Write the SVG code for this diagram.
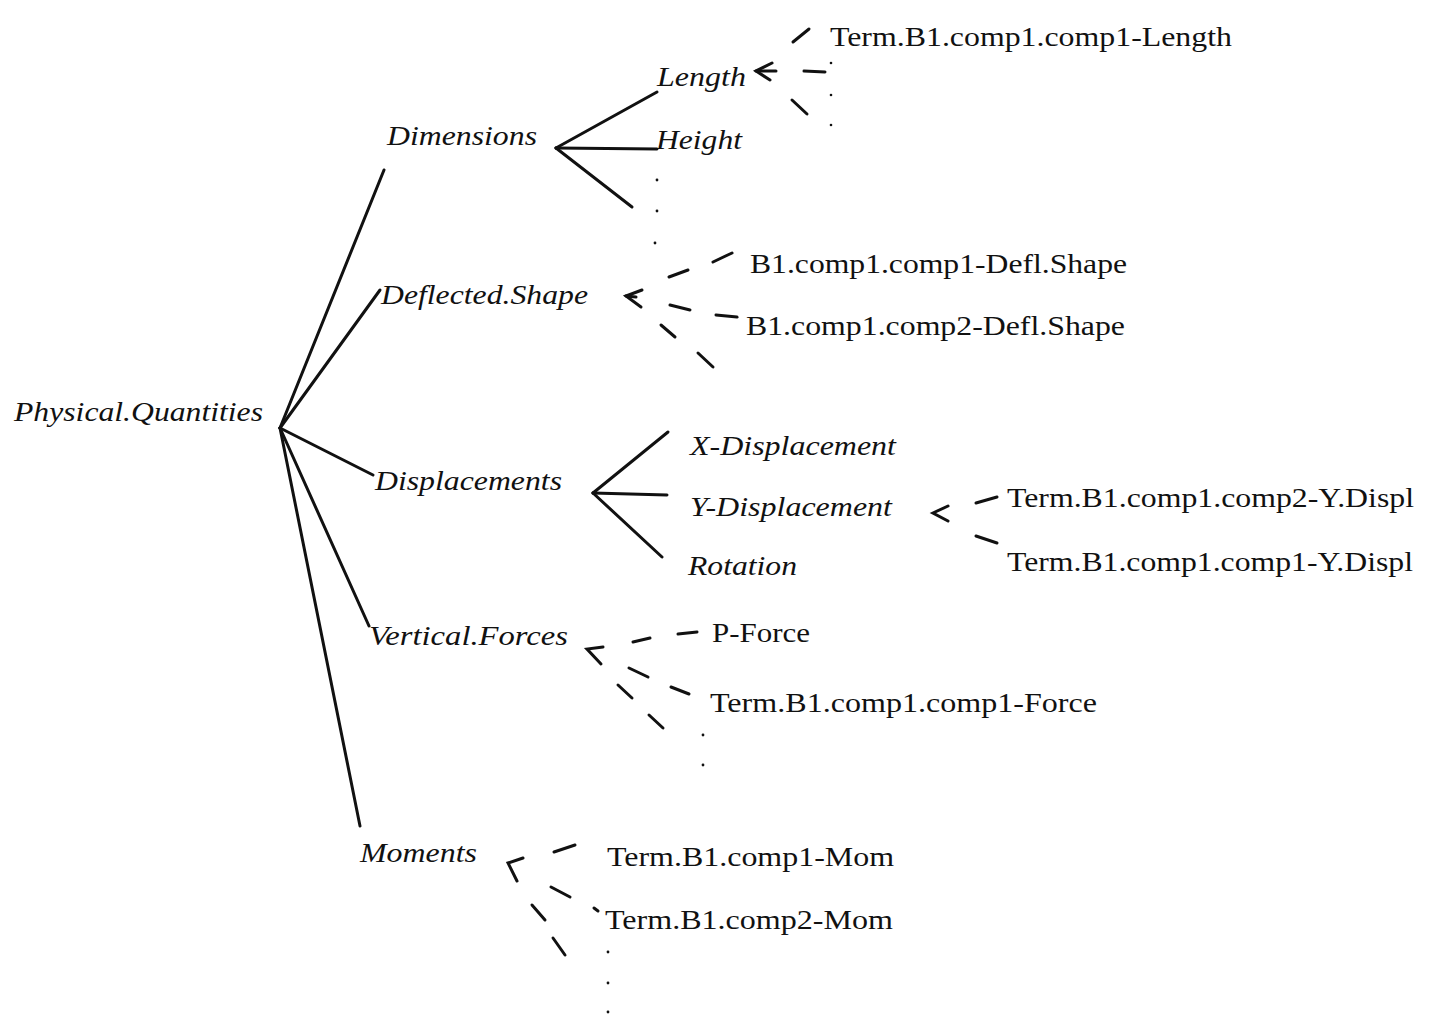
<svg xmlns="http://www.w3.org/2000/svg" width="1436" height="1019" viewBox="0 0 1436 1019">
  <style>
    .cls { font-family: "Liberation Serif", "Times New Roman", serif; font-style: italic; font-size: 27px; fill: #111; }
    .inst { font-family: "Liberation Serif", "Times New Roman", serif; font-size: 27px; fill: #111; }
    .ln { stroke: #111; stroke-width: 3; stroke-linecap: round; fill: none; }
    .dash { stroke: #111; stroke-width: 3; stroke-linecap: round; fill: none; }
    .dot { fill: #111; }
  </style>
  <rect width="1436" height="1019" fill="#fff"/>

  <!-- tree connectors (solid) and instance links (dashed arrows) -->
  <g id="connectors">
    <!-- root to categories -->
    <line class="ln" x1="280" y1="428" x2="384" y2="170"/>
    <line class="ln" x1="280" y1="428" x2="380" y2="290"/>
    <line class="ln" x1="280" y1="428" x2="373" y2="475"/>
    <line class="ln" x1="280" y1="428" x2="369" y2="626"/>
    <line class="ln" x1="280" y1="428" x2="360" y2="826"/>
    <!-- Dimensions fan -->
    <line class="ln" x1="556" y1="148" x2="657" y2="92"/>
    <line class="ln" x1="556" y1="148" x2="657" y2="149"/>
    <line class="ln" x1="556" y1="148" x2="632" y2="207"/>
    <!-- Displacements fan -->
    <line class="ln" x1="593" y1="493" x2="668" y2="432"/>
    <line class="ln" x1="593" y1="493" x2="667" y2="495"/>
    <line class="ln" x1="593" y1="493" x2="662" y2="557"/>

    <!-- Length instances -->
    <polyline class="ln" points="772,63 756,71 770,80"/>
    <line class="ln" x1="756" y1="71" x2="776" y2="71"/>
    <line class="dash" x1="793" y1="42" x2="809" y2="29"/>
    <line class="dash" x1="804" y1="71" x2="825" y2="72"/>
    <line class="dash" x1="792" y1="100" x2="807" y2="114"/>

    <!-- Deflected.Shape instances -->
    <polyline class="ln" points="642,290 626,296 641,307"/>
    <line class="ln" x1="626" y1="296" x2="636" y2="297"/>
    <line class="dash" x1="669" y1="277" x2="688" y2="270"/>
    <line class="dash" x1="713" y1="262" x2="732" y2="253"/>
    <line class="dash" x1="670" y1="305" x2="690" y2="310"/>
    <line class="dash" x1="716" y1="315" x2="737" y2="317"/>
    <line class="dash" x1="661" y1="325" x2="675" y2="337"/>
    <line class="dash" x1="698" y1="353" x2="713" y2="367"/>

    <!-- Y-Displacement instances -->
    <polyline class="ln" points="948,506 933,513 948,521"/>
    <line class="dash" x1="976" y1="503" x2="997" y2="497"/>
    <line class="dash" x1="976" y1="536" x2="997" y2="543"/>

    <!-- Vertical.Forces instances -->
    <polyline class="ln" points="603,647 587,649 601,664"/>
    <line class="dash" x1="633" y1="642" x2="650" y2="638"/>
    <line class="dash" x1="678" y1="634" x2="697" y2="632"/>
    <line class="dash" x1="629" y1="668" x2="648" y2="677"/>
    <line class="dash" x1="671" y1="687" x2="689" y2="694"/>
    <line class="dash" x1="618" y1="685" x2="632" y2="698"/>
    <line class="dash" x1="649" y1="715" x2="663" y2="728"/>

    <!-- Moments instances -->
    <polyline class="ln" points="523,858 508,863 517,881"/>
    <line class="dash" x1="554" y1="852" x2="575" y2="845"/>
    <line class="dash" x1="551" y1="887" x2="570" y2="897"/>
    <line class="dash" x1="594" y1="908" x2="598" y2="911"/>
    <line class="dash" x1="532" y1="905" x2="545" y2="920"/>
    <line class="dash" x1="553" y1="938" x2="565" y2="955"/>
  </g>

  <!-- ellipsis dots marking further members -->
  <g id="ellipses">
    <circle class="dot" cx="657" cy="180" r="1.4"/>
    <circle class="dot" cx="657" cy="211" r="1.4"/>
    <circle class="dot" cx="655" cy="243" r="1.4"/>
    <circle class="dot" cx="831" cy="63" r="1.3"/>
    <circle class="dot" cx="831" cy="95" r="1.3"/>
    <circle class="dot" cx="831" cy="125" r="1.3"/>
    <circle class="dot" cx="703" cy="735" r="1.4"/>
    <circle class="dot" cx="703" cy="765" r="1.4"/>
    <circle class="dot" cx="608" cy="952" r="1.4"/>
    <circle class="dot" cx="608" cy="983" r="1.4"/>
    <circle class="dot" cx="608" cy="1012" r="1.4"/>
  </g>

  <g id="physical-quantities"><text class="cls" x="14" y="421" textLength="249" lengthAdjust="spacingAndGlyphs">Physical.Quantities</text></g>

  <g id="dimensions"><text class="cls" x="387" y="145" textLength="150" lengthAdjust="spacingAndGlyphs">Dimensions</text></g>
  <g id="length"><text class="cls" x="657" y="86" textLength="89" lengthAdjust="spacingAndGlyphs">Length</text></g>
  <g id="height"><text class="cls" x="656" y="149" textLength="86" lengthAdjust="spacingAndGlyphs">Height</text></g>
  <g id="term-length"><text class="inst" x="830" y="46" textLength="402" lengthAdjust="spacingAndGlyphs">Term.B1.comp1.comp1-Length</text></g>

  <g id="deflected-shape"><text class="cls" x="381" y="304" textLength="207" lengthAdjust="spacingAndGlyphs">Deflected.Shape</text></g>
  <g id="defl-1"><text class="inst" x="750" y="273" textLength="377" lengthAdjust="spacingAndGlyphs">B1.comp1.comp1-Defl.Shape</text></g>
  <g id="defl-2"><text class="inst" x="746" y="335" textLength="379" lengthAdjust="spacingAndGlyphs">B1.comp1.comp2-Defl.Shape</text></g>

  <g id="displacements"><text class="cls" x="375" y="490" textLength="187" lengthAdjust="spacingAndGlyphs">Displacements</text></g>
  <g id="x-displacement"><text class="cls" x="690" y="455" textLength="206" lengthAdjust="spacingAndGlyphs">X-Displacement</text></g>
  <g id="y-displacement"><text class="cls" x="690" y="516" textLength="202" lengthAdjust="spacingAndGlyphs">Y-Displacement</text></g>
  <g id="rotation"><text class="cls" x="688" y="575" textLength="109" lengthAdjust="spacingAndGlyphs">Rotation</text></g>
  <g id="ydispl-2"><text class="inst" x="1007" y="507" textLength="407" lengthAdjust="spacingAndGlyphs">Term.B1.comp1.comp2-Y.Displ</text></g>
  <g id="ydispl-1"><text class="inst" x="1007" y="571" textLength="406" lengthAdjust="spacingAndGlyphs">Term.B1.comp1.comp1-Y.Displ</text></g>

  <g id="vertical-forces"><text class="cls" x="369" y="645" textLength="199" lengthAdjust="spacingAndGlyphs">Vertical.Forces</text></g>
  <g id="p-force"><text class="inst" x="712" y="642" textLength="98" lengthAdjust="spacingAndGlyphs">P-Force</text></g>
  <g id="term-force"><text class="inst" x="710" y="712" textLength="387" lengthAdjust="spacingAndGlyphs">Term.B1.comp1.comp1-Force</text></g>

  <g id="moments"><text class="cls" x="360" y="862" textLength="117" lengthAdjust="spacingAndGlyphs">Moments</text></g>
  <g id="mom-1"><text class="inst" x="607" y="866" textLength="287" lengthAdjust="spacingAndGlyphs">Term.B1.comp1-Mom</text></g>
  <g id="mom-2"><text class="inst" x="605" y="929" textLength="288" lengthAdjust="spacingAndGlyphs">Term.B1.comp2-Mom</text></g>
</svg>
